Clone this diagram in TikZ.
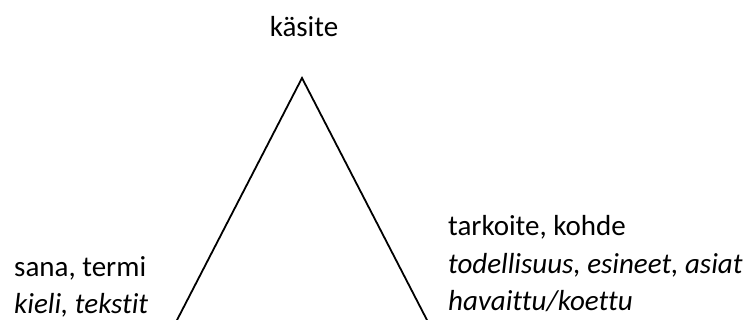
\documentclass[tikz,border=0pt]{standalone}
\usepackage{fontspec}
\setmainfont{Carlito}[Ligatures=NoCommon]
\begin{document}
\begin{tikzpicture}[x=1pt,y=-1pt,
  lbl/.style={inner sep=0pt,font=\fontsize{29}{36}\selectfont},
  edge/.style={line width=1.8pt,line cap=round}]
\useasboundingbox (0,0) rectangle (747,320);
\coordinate (apex) at (302,78);
\coordinate (bl) at (176,322);
\coordinate (br) at (428,322);
\draw[edge] (bl) -- (apex) -- (br);
\node[lbl,anchor=base] (kasite) at (304,37) {käsite};
\node[lbl,anchor=base west] (sana) at (14,277) {sana, termi};
\node[lbl,anchor=base west] (kieli) at (14,313) {\itshape kieli, tekstit};
\node[lbl,anchor=base west] (tark) at (448,236) {tarkoite, kohde};
\node[lbl,anchor=base west] (tod) at (448,274) {\itshape todellisuus, esineet, asiat};
\node[lbl,anchor=base west] (hav) at (448,311) {\itshape havaittu/koettu};
\end{tikzpicture}
\end{document}
